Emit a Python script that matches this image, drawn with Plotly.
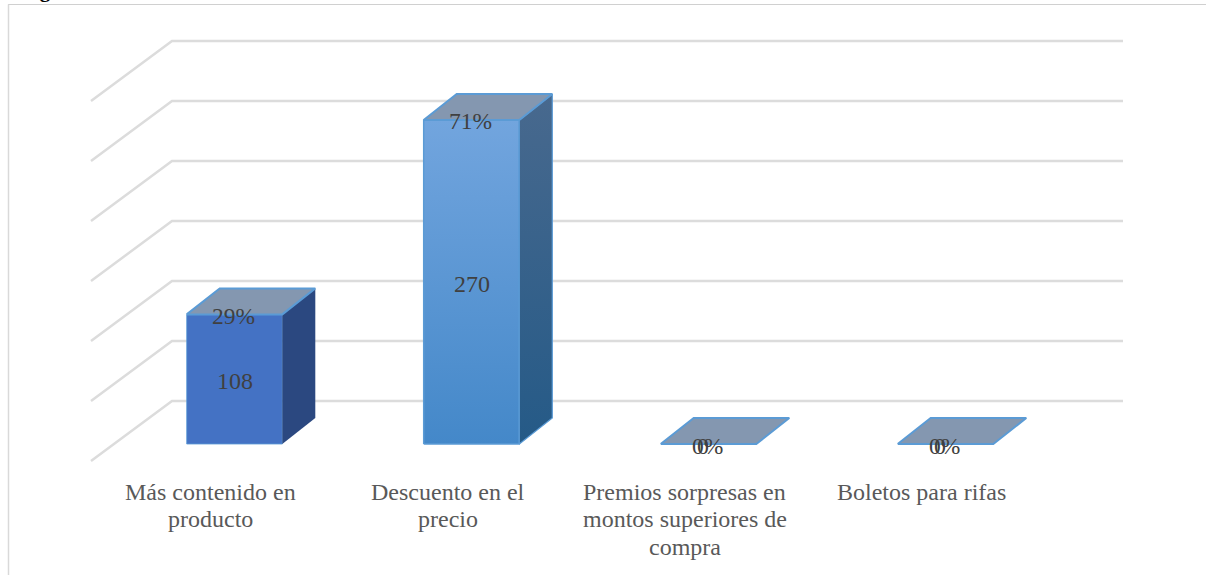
import plotly.graph_objects as go

# ---- data ----
categories = [["Más contenido en", "producto"], ["Descuento en el", "precio"],
              ["Premios sorpresas en", "montos superiores de", "compra"], ["Boletos para rifas"]]
counts = [108, 270, 0, 0]
percents = [29, 71, 0, 0]
grid_values = [0, 50, 100, 150, 200, 250, 300]

front_top = ["#4472c4", "#72a5de", "#5b9bd5", "#5b9bd5"]
front_bot = ["#4472c4", "#4488c9", "#5b9bd5", "#5b9bd5"]
side_top = ["#2b4880", "#48698e", "#48698e", "#48698e"]
side_bot = ["#2b4880", "#255a87", "#255a87", "#255a87"]
top_fill = "#8497b0"
edge = "#5b9bd5"
grid_color = "#dcdcdc"
label_color = "#404040"
cat_color = "#595959"
FONT = "Liberation Serif"

W, H = 1206, 575
PX_X = 237.0      # pixels per category
PX_Y = 1.2        # pixels per value unit
X0, Y0 = 234.5, 444.0
xr = [-X0 / PX_X, (W - X0) / PX_X]
yr = [(Y0 - H) / PX_Y, Y0 / PX_Y]

half = 47.8 / PX_X
dx, dy = 33 / PX_X, 26 / PX_Y
g_left, g_back, g_right = (91 - X0) / PX_X, (172 - X0) / PX_X, (1123 - X0) / PX_X
g_back_dy, g_front_dy = (Y0 - 401) / PX_Y, (Y0 - 461) / PX_Y

fig = go.Figure()

for v in grid_values:
    fig.add_trace(go.Scatter(
        x=[g_left, g_back, g_right],
        y=[v + g_front_dy, v + g_back_dy, v + g_back_dy],
        mode="lines", line=dict(color=grid_color, width=2.5), hoverinfo="skip"))

for i, v in enumerate(counts):
    l, r = i - half, i + half
    if v > 0:
        # front face
        fig.add_trace(go.Scatter(
            x=[l, r, r, l, l], y=[0, 0, v, v, 0], mode="lines",
            line=dict(color=edge, width=1.5 if i else 0.8), fill="toself",
            fillgradient=dict(type="vertical",
                              colorscale=[[0, front_bot[i]], [1, front_top[i]]]),
            hoverinfo="skip"))
        # side face
        fig.add_trace(go.Scatter(
            x=[r, r + dx, r + dx, r, r], y=[0, dy, v + dy, v, 0], mode="lines",
            line=dict(color=edge, width=1.2 if i else 0), fill="toself",
            fillgradient=dict(type="vertical",
                              colorscale=[[0, side_bot[i]], [1, side_top[i]]]),
            hoverinfo="skip"))
    # top face
    fig.add_trace(go.Scatter(
        x=[l, r, r + dx, l + dx, l], y=[v, v, v + dy, v + dy, v], mode="lines",
        line=dict(color=edge, width=2), fill="toself", fillcolor=top_fill,
        hoverinfo="skip"))

ann = []
for i, (c, p) in enumerate(zip(counts, percents)):
    ann.append(dict(x=i, y=c / 2, text=str(c), showarrow=False,
                    xshift=-6 if c == 0 else 0.5, yshift=-1.5, yanchor="middle",
                    font=dict(family=FONT, size=24, color=label_color)))
    ann.append(dict(x=i, y=c, text=f"{p}%", showarrow=False,
                    xshift=-1, yshift=-1.5 if c < 200 else -0.5, yanchor="middle",
                    font=dict(family=FONT, size=23.5, color=label_color)))
for i, lines in enumerate(categories):
    for j, t in enumerate(lines):
        ann.append(dict(x=i - 0.0992, y=(Y0 - (491.5 + 27.5 * j)) / PX_Y, text=t, showarrow=False,
                        yanchor="middle", xanchor="center", align="center",
                        font=dict(family=FONT, size=24, color=cat_color)))
# title line, cut off by the top of the picture
ann.append(dict(xref="paper", yref="paper", x=19 / W, y=1 - 4 / H, text="<b>Figura</b>",
                showarrow=False, xanchor="left", yanchor="bottom",
                font=dict(family=FONT, size=21, color="#000000")))

fig.update_layout(
    width=W, height=H, margin=dict(l=0, r=0, t=0, b=0),
    paper_bgcolor="white", plot_bgcolor="white", showlegend=False,
    xaxis=dict(range=xr, visible=False, fixedrange=True),
    yaxis=dict(range=yr, visible=False, fixedrange=True),
    annotations=ann,
    shapes=[
        dict(type="line", xref="paper", yref="paper", x0=8 / W, x1=1, y0=1 - 4.5 / H, y1=1 - 4.5 / H,
             line=dict(color="#d0d0d0", width=1.2)),
        dict(type="line", xref="paper", yref="paper", x0=8.5 / W, x1=8.5 / W, y0=0, y1=1 - 4.5 / H,
             line=dict(color="#d9d9d9", width=1.5)),
    ],
)

fig.write_html("out.html", config={"displayModeBar": False},
               post_script="document.body.style.margin='0';document.body.style.overflow='hidden';")
